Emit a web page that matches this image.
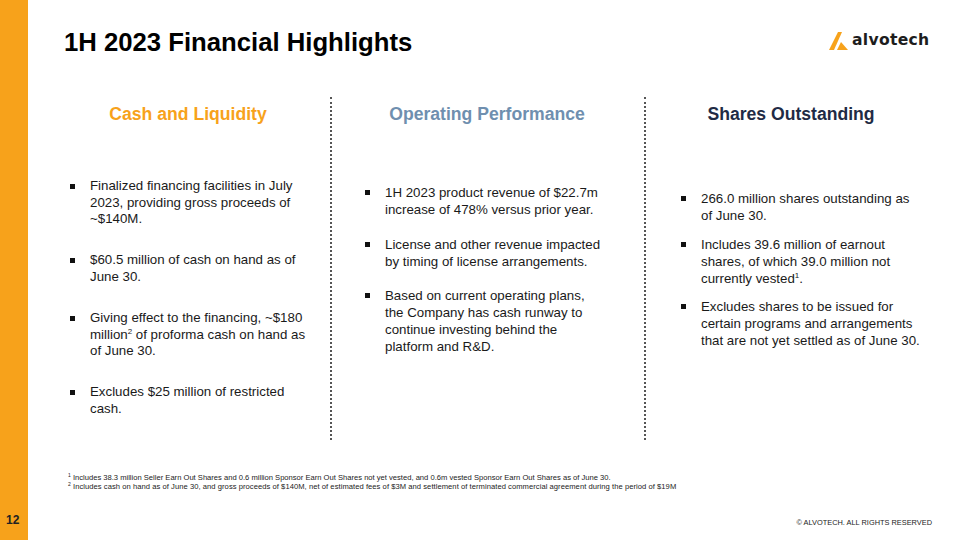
<!DOCTYPE html>
<html>
<head>
<meta charset="utf-8">
<script src="https://cdn.jsdelivr.net/npm/chart.js@4"></script>
<style>
  html, body { margin: 0; padding: 0; }
  body { width: 960px; height: 540px; position: relative; overflow: hidden; background: #fff;
         font-family: "Liberation Sans", Arial, sans-serif; color: #1a1a1a; }
  .bar { position: absolute; left: 0; top: 0; width: 28px; height: 540px; background: #F7A21B; }
  .page { position: absolute; left: 6px; top: 513px; font-size: 12px; font-weight: bold; color: #222; }
  .title { position: absolute; left: 64px; top: 28px; font-size: 25.7px; font-weight: bold; color: #000; }
  .logo { position: absolute; left: 829px; top: 30px; height: 20px; }
  .logo span { position: absolute; left: 23px; top: 1px; font-family: "DejaVu Sans", sans-serif; font-size: 15.6px; font-weight: bold; color: #1d1d1d; letter-spacing: 0.3px; }
  .head { position: absolute; top: 104px; font-size: 17.6px; font-weight: bold; text-align: center; width: 300px; }
  .divider { position: absolute; top: 97px; height: 343px; border-left: 2px dotted #555; width: 0; }
  .para { position: absolute; font-size: 13.3px; line-height: 16.5px; }
  .para::before { content: ""; position: absolute; left: -20px; top: 6px; width: 5px; height: 5px; background: #111; }
  sup { font-size: 8px; vertical-align: 5px; line-height: 0; }
  .foot { position: absolute; left: 68px; font-size: 7.6px; line-height: 9px; color: #222; white-space: nowrap; }
  .foot sup { font-size: 5px; vertical-align: 3px; }
  .copy { position: absolute; right: 28px; top: 518px; font-size: 7.4px; color: #222; }
</style>
</head>
<body>
<div class="bar"></div>
<div class="page">12</div>
<div class="title">1H 2023 Financial Highlights</div>
<div class="logo">
  <svg width="20" height="18" viewBox="0 0 20 18" style="position:absolute;left:0;top:2px">
    <polygon points="0,18 9,0 13,0 5,18" fill="#F7A21B"/>
    <polygon points="8,18 12,10 19,18" fill="#F7A21B"/>
  </svg>
  <span>alvotech</span>
</div>
<div id="slide"></div>
<div class="foot" style="top:473px"><sup>1</sup> Includes 38.3 million Seller Earn Out Shares and 0.6 million Sponsor Earn Out Shares not yet vested, and 0.6m vested Sponsor Earn Out Shares as of June 30.</div>
<div class="foot" style="top:482px; letter-spacing:0.05px"><sup>2</sup> Includes cash on hand as of June 30, and gross proceeds of $140M, net of estimated fees of $3M and settlement of terminated commercial agreement during the period of $19M</div>
<div class="copy">© ALVOTECH. ALL RIGHTS RESERVED</div>
<script>
const headers = ["Cash and Liquidity", "Operating Performance", "Shares Outstanding"];
const headerColors = ["#F7A21B", "#6F8FAF", "#1F2B45"];
const cashBullets = [
  "Finalized financing facilities in July<br>2023, providing gross proceeds of<br>~$140M.",
  "$60.5 million of cash on hand as of<br>June 30.",
  "Giving effect to the financing, ~$180<br>million<sup>2</sup> of proforma cash on hand as<br>of June 30.",
  "Excludes $25 million of restricted<br>cash."
];
const operatingBullets = [
  "1H 2023 product revenue of $22.7m<br>increase of 478% versus prior year.",
  "License and other revenue impacted<br>by timing of license arrangements.",
  "Based on current operating plans,<br>the Company has cash runway to<br>continue investing behind the<br>platform and R&amp;D."
];
const sharesBullets = [
  "266.0 million shares outstanding as<br>of June 30.",
  "Includes 39.6 million of earnout<br>shares, of which 39.0 million not<br>currently vested<sup>1</sup>.",
  "Excludes shares to be issued for<br>certain programs and arrangements<br>that are not yet settled as of June 30."
];

const slide = document.getElementById('slide');
const colCenters = [188, 487, 791];
const textLefts = [90, 385, 701];
const paraTops = [
  [178, 252, 310, 384],
  [184, 236, 287],
  [190, 236, 298]
];
const columns = [cashBullets, operatingBullets, sharesBullets];

headers.forEach((h, i) => {
  const el = document.createElement('div');
  el.className = 'head';
  el.style.left = (colCenters[i] - 150) + 'px';
  el.style.color = headerColors[i];
  el.textContent = h;
  slide.appendChild(el);
});

[330, 644].forEach(x => {
  const d = document.createElement('div');
  d.className = 'divider';
  d.style.left = x + 'px';
  slide.appendChild(d);
});

columns.forEach((items, c) => {
  items.forEach((t, k) => {
    const p = document.createElement('div');
    p.className = 'para';
    p.style.left = textLefts[c] + 'px';
    p.style.top = paraTops[c][k] + 'px';
    if (c > 0) p.style.lineHeight = '17px';
    p.innerHTML = t;
    slide.appendChild(p);
  });
});
</script>
</body>
</html>
